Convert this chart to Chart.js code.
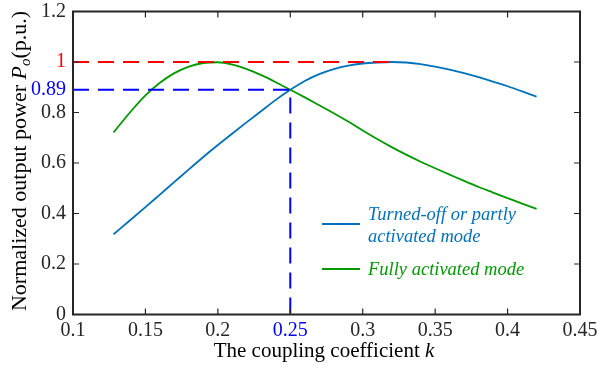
<!DOCTYPE html>
<html>
<head>
<meta charset="utf-8">
<script src="https://cdn.jsdelivr.net/npm/chart.js@4.4.1/dist/chart.umd.min.js"></script>
<style>
  html, body { margin: 0; padding: 0; background: #fff; }
  #wrap { width: 603px; height: 369px; }
</style>
</head>
<body>
<div id="wrap"><canvas id="powerChart" width="603" height="369"></canvas></div>
<script>
// coupling coefficient samples
const kValues = [0.128, 0.14, 0.15, 0.16, 0.17, 0.18, 0.19, 0.2, 0.21, 0.22, 0.23, 0.24, 0.25,
    0.26, 0.27, 0.28, 0.29, 0.3, 0.31, 0.32, 0.33, 0.34, 0.35, 0.36, 0.37, 0.38, 0.39, 0.4, 0.41, 0.42];
// Turned-off or partly activated mode
const partlyMode = [0.318, 0.376, 0.425, 0.475, 0.525, 0.575, 0.624, 0.671, 0.717, 0.762, 0.806, 0.850, 0.890,
    0.925, 0.952, 0.972, 0.986, 0.994, 0.998, 1.0, 0.998, 0.992, 0.982, 0.970, 0.956, 0.940, 0.922, 0.904, 0.884, 0.863];
// Fully activated mode
const fullyMode = [0.721, 0.805, 0.868, 0.918, 0.956, 0.982, 0.996, 0.999, 0.990, 0.972, 0.948, 0.920, 0.890,
    0.860, 0.829, 0.797, 0.764, 0.729, 0.695, 0.663, 0.633, 0.605, 0.579, 0.554, 0.529, 0.505, 0.483, 0.461, 0.439, 0.418];

// reference (dashed) lines
const peakLineK = [0.1, 0.318];
const peakLineP = [1, 1];
const crossLineK = [0.1, 0.25, 0.25];
const crossLineP = [0.89, 0.89, 0];

const xTicks = [0.1, 0.15, 0.2, 0.25, 0.3, 0.35, 0.4, 0.45];
const xTickLabels = ['0.1', '0.15', '0.2', '0.25', '0.3', '0.35', '0.4', '0.45'];
const yTicks = [0, 0.2, 0.4, 0.6, 0.8, 0.89, 1, 1.2];
const yTickLabels = ['0', '0.2', '0.4', '0.6', '0.8', '0.89', '1', '1.2'];

const BLUE = 'rgb(0,114,189)';
const GREEN = 'rgb(0,155,0)';
const FONT = '"Liberation Serif", "Times New Roman", serif';
const FS = 20;

const toPoints = (xs, ys) => xs.map((x, i) => ({ x: x, y: ys[i] }));

function tickColor(v) {
    if (Math.abs(v - 1) < 1e-6) return 'rgb(255,0,0)';
    if (Math.abs(v - 0.89) < 1e-6 || Math.abs(v - 0.25) < 1e-6) return 'rgb(0,0,255)';
    return '#262626';
}

// box, inward ticks, axis titles and legend, MATLAB style
const matlabFrame = {
    id: 'matlabFrame',
    afterDraw(chart) {
        const c = chart.ctx;
        const a = chart.chartArea;
        const xs = chart.scales.x, ys = chart.scales.y;
        c.save();
        c.strokeStyle = '#262626';
        c.lineWidth = 2;
        c.strokeRect(a.left, a.top, a.right - a.left, a.bottom - a.top);
        c.lineWidth = 1.2;
        c.beginPath();
        xTicks.forEach(v => {
            const px = xs.getPixelForValue(v);
            c.moveTo(px, a.bottom); c.lineTo(px, a.bottom - 6);
            c.moveTo(px, a.top); c.lineTo(px, a.top + 6);
        });
        yTicks.filter(v => v !== 0.89).forEach(v => {
            const py = ys.getPixelForValue(v);
            c.moveTo(a.left, py); c.lineTo(a.left + 6, py);
            c.moveTo(a.right, py); c.lineTo(a.right - 6, py);
        });
        c.stroke();

        // x axis title
        c.fillStyle = '#000';
        c.textBaseline = 'alphabetic';
        const xf = 21;
        const t1 = 'The coupling coefficient ';
        c.font = 'italic ' + xf + 'px ' + FONT;
        const wk = c.measureText('k').width;
        c.font = xf + 'px ' + FONT;
        const w1 = c.measureText(t1).width;
        let sx = 324 - (w1 + wk) / 2;
        c.fillText(t1, sx, 357);
        c.font = 'italic ' + xf + 'px ' + FONT;
        c.fillText('k', sx + w1, 357);

        // y axis title (rotated)
        const yf = 22;
        c.save();
        c.translate(25.5, 161);
        c.rotate(-Math.PI / 2);
        const s1 = 'Normalized output power ';
        const s3 = '(p.u.)';
        c.font = yf + 'px ' + FONT;
        const ws1 = c.measureText(s1).width, ws3 = c.measureText(s3).width;
        c.font = 'italic ' + yf + 'px ' + FONT;
        const wp = c.measureText('P').width;
        c.font = 'italic 15px ' + FONT;
        const wo = c.measureText('o').width;
        let ox = -(ws1 + wp + wo + ws3) / 2;
        c.font = yf + 'px ' + FONT;
        c.fillText(s1, ox, 0); ox += ws1;
        c.font = 'italic ' + yf + 'px ' + FONT;
        c.fillText('P', ox, 0); ox += wp;
        c.font = 'italic 15px ' + FONT;
        c.fillText('o', ox, 4); ox += wo;
        c.font = yf + 'px ' + FONT;
        c.fillText(s3, ox, 0);
        c.restore();

        // legend
        c.lineWidth = 2;
        c.strokeStyle = BLUE;
        c.beginPath(); c.moveTo(322, 224); c.lineTo(360, 224); c.stroke();
        c.strokeStyle = GREEN;
        c.beginPath(); c.moveTo(322, 269); c.lineTo(360, 269); c.stroke();
        c.font = 'italic 18.5px ' + FONT;
        c.fillStyle = BLUE;
        c.fillText('Turned-off or partly', 368, 220);
        c.fillText('activated mode', 368, 242);
        c.fillStyle = GREEN;
        c.fillText('Fully activated mode', 368, 275);
        c.restore();
    }
};

const chart = new Chart(document.getElementById('powerChart'), {
    type: 'scatter',
    data: {
        datasets: [
            {
                label: 'Turned-off or partly activated mode',
                data: toPoints(kValues, partlyMode),
                showLine: true, borderColor: BLUE, borderWidth: 1.8,
                pointRadius: 0, cubicInterpolationMode: 'monotone', order: 3
            },
            {
                label: 'Fully activated mode',
                data: toPoints(kValues, fullyMode),
                showLine: true, borderColor: GREEN, borderWidth: 1.8,
                pointRadius: 0, cubicInterpolationMode: 'monotone', order: 2
            },
            {
                label: 'peak',
                data: toPoints(peakLineK, peakLineP),
                showLine: true, borderColor: 'rgb(255,0,0)', borderWidth: 2,
                borderDash: [16, 9], pointRadius: 0, order: 1
            },
            {
                label: 'crossing',
                data: toPoints(crossLineK, crossLineP),
                showLine: true, borderColor: 'rgb(0,0,255)', borderWidth: 2,
                borderDash: [16, 9], pointRadius: 0, order: 0
            }
        ]
    },
    options: {
        responsive: false,
        animation: false,
        layout: { padding: { top: 11.5, right: 23, left: 0, bottom: 0 } },
        plugins: { legend: { display: false }, tooltip: { enabled: false } },
        scales: {
            x: {
                type: 'linear', min: 0.1, max: 0.45,
                afterBuildTicks: s => { s.ticks = xTicks.map(v => ({ value: v })); },
                afterFit: s => { s.height = 54.5; s.paddingLeft = 0; s.paddingRight = 0; },
                grid: { display: false, drawTicks: false },
                border: { display: false },
                ticks: {
                    autoSkip: false, maxRotation: 0, padding: 4,
                    font: { family: FONT, size: FS },
                    color: ctx => tickColor(ctx.tick.value),
                    callback: (v, i) => xTickLabels[i]
                }
            },
            y: {
                type: 'linear', min: 0, max: 1.2,
                afterBuildTicks: s => { s.ticks = yTicks.map(v => ({ value: v })); },
                afterFit: s => { s.width = 73; s.paddingTop = 0; s.paddingBottom = 0; },
                grid: { display: false, drawTicks: false },
                border: { display: false },
                ticks: {
                    autoSkip: false, padding: 7,
                    font: { family: FONT, size: FS },
                    color: ctx => tickColor(ctx.tick.value),
                    callback: (v, i) => yTickLabels[i]
                }
            }
        }
    },
    plugins: [matlabFrame]
});
</script>
</body>
</html>
